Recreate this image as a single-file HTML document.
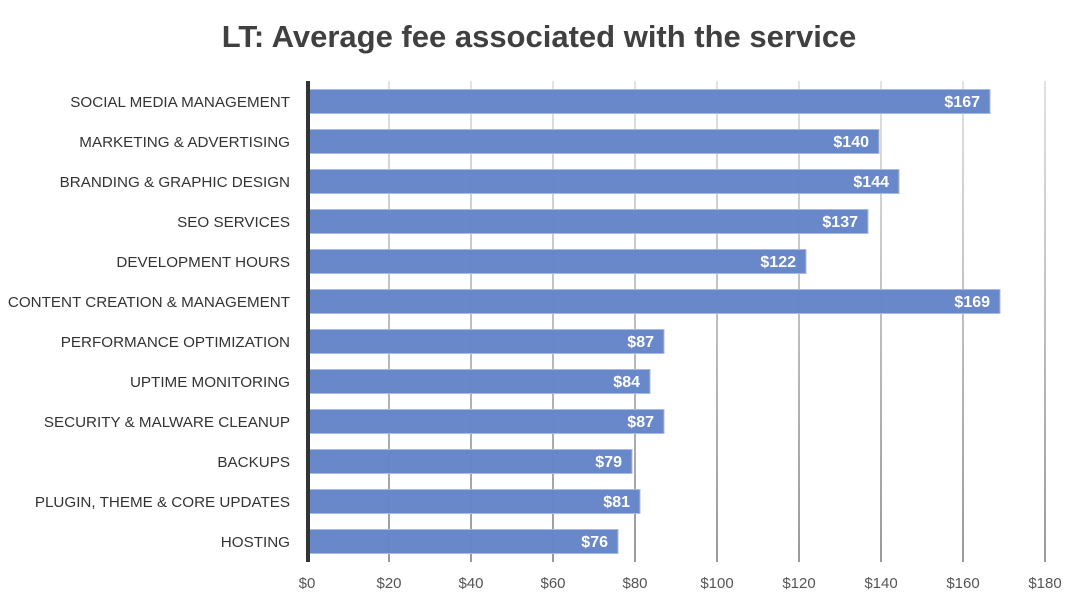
<!DOCTYPE html>
<html><head><meta charset="utf-8"><style>
html,body{margin:0;padding:0;background:#fff;}
svg{display:block;font-family:"Liberation Sans",sans-serif;}
</style></head><body>
<svg width="1070" height="604" viewBox="0 0 1070 604" xmlns="http://www.w3.org/2000/svg">
<defs><linearGradient id="g" x1="0" y1="81" x2="0" y2="562" gradientUnits="userSpaceOnUse"><stop offset="0" stop-color="#e2e2e2"/><stop offset="1" stop-color="#9a9a9a"/></linearGradient></defs>
<text x="539" y="47" text-anchor="middle" font-size="31" font-weight="bold" fill="#404040">LT: Average fee associated with the service</text>
<g stroke="url(#g)" stroke-width="2">
<line x1="389" y1="81" x2="389" y2="562"/><line x1="471" y1="81" x2="471" y2="562"/><line x1="553" y1="81" x2="553" y2="562"/><line x1="635" y1="81" x2="635" y2="562"/><line x1="717" y1="81" x2="717" y2="562"/><line x1="799" y1="81" x2="799" y2="562"/><line x1="881" y1="81" x2="881" y2="562"/><line x1="963" y1="81" x2="963" y2="562"/><line x1="1045" y1="81" x2="1045" y2="562"/>
</g>
<g fill="#6586c8" fill-opacity="0.98" stroke="#a6bbe3" stroke-width="1">
<rect x="309" y="89.5" width="681" height="24"/>
<rect x="309" y="129.5" width="570" height="24"/>
<rect x="309" y="169.5" width="590" height="24"/>
<rect x="309" y="209.5" width="559" height="24"/>
<rect x="309" y="249.5" width="497" height="24"/>
<rect x="309" y="289.5" width="691" height="24"/>
<rect x="309" y="329.5" width="355" height="24"/>
<rect x="309" y="369.5" width="341" height="24"/>
<rect x="309" y="409.5" width="355" height="24"/>
<rect x="309" y="449.5" width="323" height="24"/>
<rect x="309" y="489.5" width="331" height="24"/>
<rect x="309" y="529.5" width="309" height="24"/>
</g>
<rect x="306" y="81" width="4" height="481" fill="#333"/>
<g font-size="16" font-weight="bold" fill="#fff" text-anchor="end">
<text x="980" y="107">$167</text><text x="869" y="147">$140</text><text x="889" y="187">$144</text><text x="858" y="227">$137</text><text x="796" y="267">$122</text><text x="990" y="307">$169</text><text x="654" y="347">$87</text><text x="640" y="387">$84</text><text x="654" y="427">$87</text><text x="622" y="467">$79</text><text x="630" y="507">$81</text><text x="608" y="547">$76</text>
</g>
<g font-size="15.2" fill="#333" text-anchor="end">
<text x="290" y="107">SOCIAL MEDIA MANAGEMENT</text><text x="290" y="147">MARKETING &amp; ADVERTISING</text><text x="290" y="187">BRANDING &amp; GRAPHIC DESIGN</text><text x="290" y="227">SEO SERVICES</text><text x="290" y="267">DEVELOPMENT HOURS</text><text x="290" y="307">CONTENT CREATION &amp; MANAGEMENT</text><text x="290" y="347">PERFORMANCE OPTIMIZATION</text><text x="290" y="387">UPTIME MONITORING</text><text x="290" y="427">SECURITY &amp; MALWARE CLEANUP</text><text x="290" y="467">BACKUPS</text><text x="290" y="507">PLUGIN, THEME &amp; CORE UPDATES</text><text x="290" y="547">HOSTING</text>
</g>
<g font-size="15" fill="#555" text-anchor="middle">
<text x="307" y="588">$0</text><text x="389" y="588">$20</text><text x="471" y="588">$40</text><text x="553" y="588">$60</text><text x="635" y="588">$80</text><text x="717" y="588">$100</text><text x="799" y="588">$120</text><text x="881" y="588">$140</text><text x="963" y="588">$160</text><text x="1045" y="588">$180</text>
</g>
</svg>
</body></html>
